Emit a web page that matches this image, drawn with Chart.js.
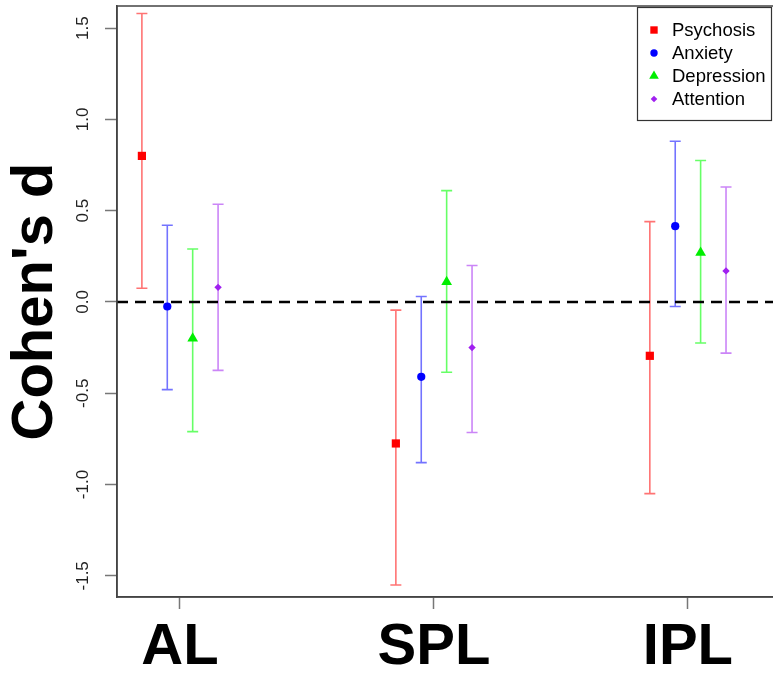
<!DOCTYPE html>
<html>
<head>
<meta charset="utf-8">
<script src="https://cdn.jsdelivr.net/npm/chart.js@4.4.0/dist/chart.umd.min.js"></script>
<style>
    html, body { margin: 0; padding: 0; background: #fff; }
    canvas { display: block; }
</style>
</head>
<body>
<canvas id="chart" width="773" height="675"></canvas>
<script>
// Regions on the x axis
const regions = ["AL", "SPL", "IPL"];
const groups = ["Psychosis", "Anxiety", "Depression", "Attention"];

// Cohen's d with lower / upper CI, one value per region
const psychosisD  = [0.80, -0.775, -0.295];
const psychosisLo = [0.075, -1.55, -1.05];
const psychosisHi = [1.58, -0.045, 0.44];

const anxietyD  = [-0.025, -0.41, 0.415];
const anxietyLo = [-0.48, -0.88, -0.025];
const anxietyHi = [0.42, 0.03, 0.88];

const depressionD  = [-0.20, 0.11, 0.27];
const depressionLo = [-0.71, -0.385, -0.225];
const depressionHi = [0.29, 0.61, 0.775];

const attentionD  = [0.08, -0.25, 0.17];
const attentionLo = [-0.375, -0.715, -0.28];
const attentionHi = [0.535, 0.20, 0.63];

const yTicks = [-1.5, -1.0, -0.5, 0.0, 0.5, 1.0, 1.5];
const zeroLine = 0;

//#region chart setup
const xMin = 0.752, xMax = 3.335;
const dodge = [-0.15, -0.05, 0.05, 0.15];

function points(d, lo, hi, g) {
    return d.map((v, i) => ({ x: i + 1 + dodge[g], y: v, lo: lo[i], hi: hi[i] }));
}

const styles = [
    { color: "#ff0000", bar: "rgba(255,0,0,0.55)", shape: "rect", r: 5.8 },
    { color: "#0000ff", bar: "rgba(0,0,255,0.55)", shape: "circle", r: 4.1 },
    { color: "#00ee00", bar: "rgba(0,255,0,0.6)", shape: "triangle", r: 6.2 },
    { color: "#a020f0", bar: "rgba(160,32,240,0.55)", shape: "rectRot", r: 3.7 },
];
const series = [
    points(psychosisD, psychosisLo, psychosisHi, 0),
    points(anxietyD, anxietyLo, anxietyHi, 1),
    points(depressionD, depressionLo, depressionHi, 2),
    points(attentionD, attentionLo, attentionHi, 3),
];

let datasets = series.map((data, g) => ({
    label: groups[g],
    data: data,
    order: 1,
    barColor: styles[g].bar,
    pointStyle: styles[g].shape,
    pointRadius: styles[g].r,
    pointHoverRadius: styles[g].r,
    pointBorderWidth: 0,
    backgroundColor: styles[g].color,
    borderColor: styles[g].color,
}));

// dashed reference line at d = 0
datasets.push({
    type: "line",
    label: "zero",
    data: [{ x: xMin, y: zeroLine }, { x: xMax, y: zeroLine }],
    order: 0,
    borderColor: "#000",
    borderWidth: 2.5,
    borderDash: [11, 7],
    pointRadius: 0,
    fill: false,
});

// error bars drawn under the points
const errorBars = {
    id: "errorBars",
    beforeDatasetsDraw(chart) {
        const ctx = chart.ctx;
        const yScale = chart.scales.y;
        chart.data.datasets.forEach((ds, di) => {
            if (!ds.barColor) return;
            const meta = chart.getDatasetMeta(di);
            ctx.save();
            ctx.strokeStyle = ds.barColor;
            ctx.lineWidth = 1.6;
            meta.data.forEach((pt, i) => {
                const top = yScale.getPixelForValue(ds.data[i].hi);
                const bot = yScale.getPixelForValue(ds.data[i].lo);
                ctx.beginPath();
                ctx.moveTo(pt.x, top);
                ctx.lineTo(pt.x, bot);
                ctx.moveTo(pt.x - 5.5, top);
                ctx.lineTo(pt.x + 5.5, top);
                ctx.moveTo(pt.x - 5.5, bot);
                ctx.lineTo(pt.x + 5.5, bot);
                ctx.stroke();
            });
            ctx.restore();
        });
    },
};

// box round the plot region plus the R-style legend in the corner
const frameAndLegend = {
    id: "frameAndLegend",
    afterDraw(chart) {
        const ctx = chart.ctx;
        const a = chart.chartArea;
        ctx.save();
        ctx.strokeStyle = "#444";
        ctx.lineWidth = 1.5;
        ctx.strokeRect(a.left, a.top, a.right - a.left + 4, a.bottom - a.top);

        const x0 = 637.5, y0 = 7.5;
        ctx.fillStyle = "#fff";
        ctx.fillRect(x0, y0, 134, 113);
        ctx.strokeStyle = "#333";
        ctx.lineWidth = 1.2;
        ctx.strokeRect(x0, y0, 134, 113);

        ctx.font = "18.5px 'Liberation Sans', Arial, sans-serif";
        ctx.textBaseline = "middle";
        ctx.textAlign = "left";
        groups.forEach((name, g) => {
            const y = 30 + g * 23;
            ctx.fillStyle = styles[g].color;
            Chart.helpers.drawPoint(ctx, {
                pointStyle: styles[g].shape,
                radius: styles[g].r * 0.9,
                borderWidth: 0,
                rotation: 0,
            }, 654, y);
            ctx.fillStyle = "#000";
            ctx.fillText(name, 672, y + 1);
        });
        ctx.restore();
    },
};

const ctx = document.getElementById("chart");
const config = {
    type: "scatter",
    data: { datasets: datasets },
    plugins: [errorBars, frameAndLegend],
    options: {
        responsive: false,
        animation: false,
        events: [],
        layout: { autoPadding: false, padding: { top: 6, left: 0, right: 0, bottom: 0 } },
        plugins: {
            legend: { display: false },
            tooltip: { enabled: false },
        },
        scales: {
            x: {
                type: "linear",
                position: "bottom",
                min: xMin,
                max: xMax,
                afterBuildTicks: (axis) => {
                    axis.ticks = regions.map((r, i) => ({ value: i + 1 }));
                },
                afterFit: (axis) => {
                    axis.height = 78;
                    axis.paddingLeft = 0;
                    axis.paddingRight = 0;
                },
                grid: {
                    display: true,
                    drawOnChartArea: false,
                    drawTicks: true,
                    tickLength: 12,
                    tickWidth: 1.5,
                    tickColor: "#777",
                },
                border: { display: true, color: "#444", width: 1.5 },
                ticks: {
                    autoSkip: false,
                    maxRotation: 0,
                    padding: 4,
                    color: "#000",
                    font: { family: "'Liberation Sans', Arial, sans-serif", size: 58, weight: "bold" },
                    callback: (v) => regions[Math.round(v) - 1],
                },
            },
            y: {
                type: "linear",
                min: -1.616,
                max: 1.621,
                afterBuildTicks: (axis) => {
                    axis.ticks = yTicks.map((v) => ({ value: v }));
                },
                afterFit: (axis) => {
                    axis.width = 117;
                    axis.paddingTop = 0;
                    axis.paddingBottom = 0;
                },
                grid: {
                    display: true,
                    drawOnChartArea: false,
                    drawTicks: true,
                    tickLength: 12,
                    tickWidth: 1.5,
                    tickColor: "#777",
                },
                border: { display: true, color: "#444", width: 1.5 },
                ticks: {
                    autoSkip: false,
                    minRotation: 90,
                    maxRotation: 90,
                    crossAlign: "center",
                    padding: 7,
                    color: "#222",
                    font: { family: "'Liberation Sans', Arial, sans-serif", size: 17 },
                    callback: (v) => v.toFixed(1),
                },
                title: {
                    display: true,
                    text: "Cohen's d",
                    color: "#000",
                    padding: { top: 7, bottom: 0 },
                    font: { family: "'Liberation Sans', Arial, sans-serif", size: 58, weight: "bold", lineHeight: 1 },
                },
            },
        },
    },
};

const cohenChart = new Chart(ctx, config);
//#endregion
</script>
</body>
</html>
